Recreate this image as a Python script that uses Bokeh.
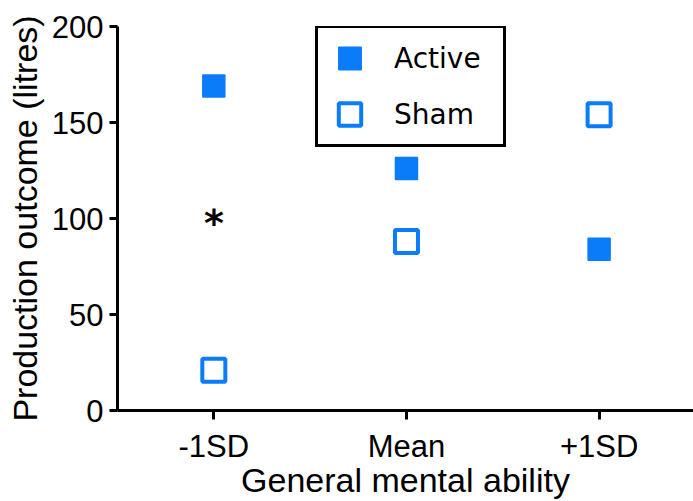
from bokeh.plotting import figure
from bokeh.models import FixedTicker, Legend, LegendItem, Range1d
from bokeh.core.properties import value
from bokeh.embed import file_html
from bokeh.resources import INLINE

# ---- data ----
categories = ["-1SD", "Mean", "+1SD"]
active = [169, 126, 84]
sham = [21, 88, 154]
y_ticks = [0, 50, 100, 150, 200]
sig_category = "-1SD"
sig_value = 100
sig_text = "*"

x_label = "General mental ability"
y_label = "Production outcome (litres)"

x_pos = list(range(len(categories)))
BLUE = "#0a7cfa"

p = figure(width=693, height=501, output_backend="svg", toolbar_location=None,
           x_range=Range1d(-0.5, 2.49), y_range=Range1d(0, 200),
           min_border_left=117, min_border_right=0, min_border_top=26,
           min_border_bottom=90)
p.outline_line_color = None
p.grid.visible = False
p.background_fill_color = "white"
p.border_fill_color = "white"

r_active = p.scatter(x_pos, active, marker="square", size=22,
                     fill_color=BLUE, line_color=BLUE, line_width=1.5)
r_sham = p.scatter(x_pos, sham, marker="square", size=23,
                   fill_color="white", line_color=BLUE, line_width=4)

p.text(x=[categories.index(sig_category)], y=[sig_value], text=[sig_text],
       text_font=value("DejaVu Sans"), text_font_style="bold",
       text_font_size="38px", text_align="center",
       text_baseline="middle", y_offset=4, text_color="black")

p.xaxis.ticker = FixedTicker(ticks=x_pos)
p.xaxis.major_label_overrides = {i: c for i, c in enumerate(categories)}
p.yaxis.ticker = FixedTicker(ticks=y_ticks)
p.xaxis.axis_label = x_label
p.yaxis.axis_label = y_label

for ax in (p.xaxis[0], p.yaxis[0]):
    ax.axis_line_width = 3
    ax.axis_line_color = "black"
    ax.major_tick_line_width = 3
    ax.major_tick_line_color = "black"
    ax.major_tick_in = 0
    ax.minor_tick_in = 0
    ax.minor_tick_out = 0
    ax.major_label_text_font = "Liberation Sans"
    ax.major_label_text_font_size = "31px"
    ax.major_label_text_color = "black"
    ax.axis_label_text_font = "Liberation Sans"
    ax.axis_label_text_font_size = "34px"
    ax.axis_label_text_font_style = "normal"
    ax.axis_label_text_color = "black"

p.xaxis.major_tick_out = 9
p.yaxis.major_tick_out = 8
p.xaxis.major_label_standoff = 9
p.xaxis.axis_label_standoff = -6
p.yaxis.major_label_standoff = 6
p.yaxis.axis_label_standoff = 5

legend = Legend(
    items=[LegendItem(label="Active", renderers=[r_active]),
           LegendItem(label="Sham", renderers=[r_sham])],
    location=(198, 263), orientation="vertical",
    border_line_color="black", border_line_width=3, border_line_alpha=1,
    background_fill_color="white", background_fill_alpha=1,
    padding=2, spacing=0, margin=0,
    glyph_width=59, glyph_height=56, label_height=56, label_width=107,
    label_standoff=15,
    label_text_font="DejaVu Sans", label_text_font_size="28px",
    label_text_color="black")
p.add_layout(legend)

open("out.html", "w").write(file_html(p, INLINE))
